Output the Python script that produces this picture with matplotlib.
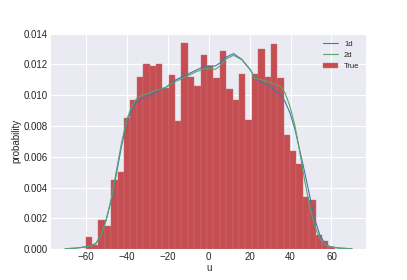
import numpy as np
import matplotlib
matplotlib.use("Agg")
from matplotlib import pyplot as plt

# histogram of the true values (39 bins from -60 to 61.6)
bin_lo = -60.0
bin_hi = 61.6
true_density = [0.0008, 0.00025, 0.00187, 0.0015, 0.0045, 0.0050, 0.0085, 0.0097,
                0.0112, 0.0120, 0.0119, 0.0120, 0.0105, 0.0113, 0.0083, 0.0134,
                0.0112, 0.0106, 0.0126, 0.0119, 0.0111, 0.0129, 0.0104, 0.0097,
                0.0114, 0.0084, 0.0114, 0.0130, 0.0112, 0.0133, 0.0111, 0.0074,
                0.0064, 0.0055, 0.0034, 0.0032, 0.0009, 0.0005, 0.00017]

# density curves
u_1d = [-70, -65, -62.5, -60, -57.5, -55, -52.5, -50, -47.5, -45, -42.5, -40, -37.5,
        -35, -32.5, -30, -26, -21, -16, -11, -6.5, -1.6, 3.3, 5.7, 8.1, 12.2, 16.2,
        20.3, 22.7, 25.1, 30, 34.9, 37.3, 39.7, 42.2, 44.6, 47, 49.4, 51.9, 54.3,
        56.7, 59.2, 64, 70]
p_1d = [0.00003, 0.00007, 0.00011, 0.00015, 0.00022, 0.00039, 0.00093, 0.0019, 0.0032,
        0.0049, 0.0067, 0.0082, 0.0091, 0.0096, 0.0098, 0.0099, 0.0102, 0.0105, 0.0110,
        0.0113, 0.0116, 0.0119, 0.0119, 0.0121, 0.01244, 0.0127, 0.01233, 0.01168,
        0.0111, 0.0109, 0.01055, 0.01005, 0.0096, 0.00886, 0.00777, 0.00636, 0.00495,
        0.00343, 0.00191, 0.00093, 0.0004, 0.00017, 0.00007, 0.00003]

u_2d = [-70, -65, -62.5, -60, -57.5, -55, -52.5, -50, -47.5, -45, -42.5, -40, -37.5,
        -35, -32.5, -30, -26, -21, -16, -11, -6.5, -1.6, 3.3, 5.7, 8.1, 12.2, 16.2,
        20.3, 22.7, 25.1, 30, 34.9, 37.3, 39.7, 42.2, 44.6, 47, 49.4, 51.9, 54.3,
        56.7, 59.2, 64, 70]
p_2d = [0.00003, 0.00007, 0.00011, 0.00015, 0.00022, 0.00036, 0.0009, 0.0019, 0.0033,
        0.0051, 0.0069, 0.0084, 0.0093, 0.0098, 0.0100, 0.0101, 0.0103, 0.0105, 0.0109,
        0.0112, 0.0115, 0.01174, 0.01168, 0.0119, 0.01233, 0.01259, 0.0123, 0.01165,
        0.0111, 0.01103, 0.01085, 0.01059, 0.01016, 0.00929, 0.00799, 0.00625, 0.0044,
        0.00278, 0.00148, 0.0007, 0.00033, 0.00015, 0.00007, 0.00003]

plt.style.use("seaborn-v0_8-darkgrid")
plt.rcParams["font.family"] = ["Liberation Sans", "DejaVu Sans"]

edges = np.linspace(bin_lo, bin_hi, len(true_density) + 1)
centers = (edges[:-1] + edges[1:]) / 2

fig, ax = plt.subplots(figsize=(4.07, 2.8), dpi=100)
ax.plot(u_1d, p_1d, color="#4C72B0", lw=0.8, label="1d")
ax.plot(u_2d, p_2d, color="#55A868", lw=0.8, label="2d")
ax.hist(centers, bins=edges, weights=true_density, color="#C44E52",
        edgecolor="#D07476", linewidth=0.3, label="True")

ax.set_ylim(0, 0.014)
ax.set_xticks([-60, -40, -20, 0, 20, 40, 60])
ax.tick_params(labelsize=7, pad=2)
ax.yaxis.set_major_formatter(matplotlib.ticker.FormatStrFormatter("%.3f"))
ax.set_xlabel("u", fontsize=7, labelpad=1)
ax.set_ylabel("probability", fontsize=7, labelpad=2)
ax.legend(loc="upper right", fontsize=5.5, frameon=False)

plt.savefig("out.png", dpi=100)
